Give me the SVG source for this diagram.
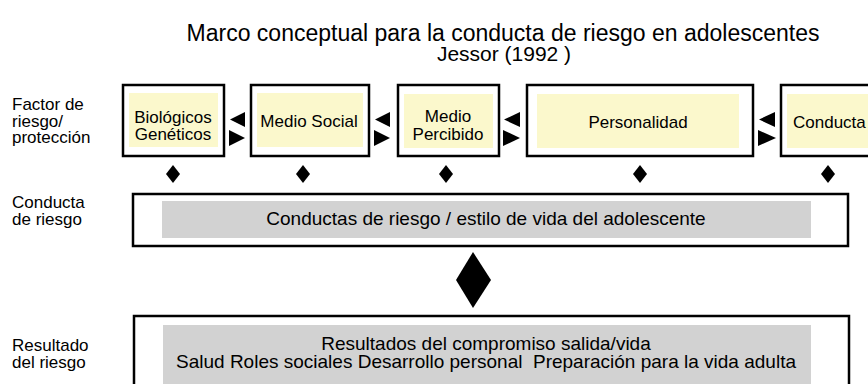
<svg xmlns="http://www.w3.org/2000/svg" width="868" height="384" viewBox="0 0 868 384">
<defs>
<style>
text{font-family:"Liberation Sans",Arial,sans-serif;fill:#000}
.title{font-size:23px;text-anchor:middle}
.sub{font-size:21px;text-anchor:middle}
.lbl{font-size:17px}
.bt{font-size:17px;text-anchor:middle}
.gt{font-size:19px;text-anchor:middle}
.outer{fill:#fff;stroke:#000;stroke-width:2.5}
.yel{fill:#fbf8cc}
.gray{fill:#d2d2d2}
.tri{fill:#000}
</style>
</defs>
<rect width="868" height="384" fill="#fff"/>
<g id="title">
<text class="title" x="503" y="41">Marco conceptual para la conducta de riesgo en adolescentes</text>
<text class="sub" x="504" y="61">Jessor (1992 )</text>
</g>
<g id="row-labels">
<text class="lbl" x="12" y="110">Factor de</text>
<text class="lbl" x="12" y="126.5">riesgo/</text>
<text class="lbl" x="12" y="143">protección</text>
<text class="lbl" x="12" y="208">Conducta</text>
<text class="lbl" x="12" y="225">de riesgo</text>
<text class="lbl" x="12" y="351">Resultado</text>
<text class="lbl" x="12" y="368">del riesgo</text>
</g>
<g id="n-biologicos">
<rect class="outer" x="123" y="85" width="101" height="71"/>
<rect class="yel" x="129" y="93" width="89" height="54"/>
<text class="bt" x="173" y="123">Biológicos</text>
<text class="bt" x="173" y="140">Genéticos</text>
</g>
<g id="n-medio-social">
<rect class="outer" x="251" y="85" width="118" height="71"/>
<rect class="yel" x="257" y="93" width="106" height="54"/>
<text class="bt" x="309" y="127">Medio Social</text>
</g>
<g id="n-medio-percibido">
<rect class="outer" x="398" y="85" width="101" height="71"/>
<rect class="yel" x="404" y="94" width="89" height="54"/>
<text class="bt" x="448" y="122">Medio</text>
<text class="bt" x="448" y="140">Percibido</text>
</g>
<g id="n-personalidad">
<rect class="outer" x="527" y="85" width="226" height="71"/>
<rect class="yel" x="537" y="94" width="202" height="54"/>
<text class="bt" x="638" y="128">Personalidad</text>
</g>
<g id="n-conducta">
<rect class="outer" x="781" y="85" width="100" height="71"/>
<rect class="yel" x="787" y="94" width="90" height="54"/>
<text class="lbl" x="793" y="128">Conducta</text>
</g>
<g id="n-conductas-riesgo">
<rect class="outer" x="133" y="194" width="715" height="52"/>
<rect class="gray" x="162" y="201" width="649" height="37"/>
<text class="gt" x="486" y="225">Conductas de riesgo / estilo de vida del adolescente</text>
</g>
<g id="n-resultados">
<rect class="outer" x="134" y="316" width="715" height="80"/>
<rect class="gray" x="163" y="325" width="648" height="59"/>
<text class="gt" x="486" y="350">Resultados del compromiso salida/vida</text>
<text class="gt" x="486" y="368">Salud Roles sociales Desarrollo personal &#160;Preparación para la vida adulta</text>
</g>
<g id="connectors">
<polygon class="tri" points="230,119.5 245,112 245,127"/>
<polygon class="tri" points="245,138 229,130 229,146"/>
<polygon class="tri" points="375,119.5 390,112 390,127"/>
<polygon class="tri" points="390,138 374,130 374,146"/>
<polygon class="tri" points="504,119.5 520,112 520,127"/>
<polygon class="tri" points="520,138 503,130 503,146"/>
<polygon class="tri" points="759,119.5 775,112 775,127"/>
<polygon class="tri" points="776,138 758,130 758,146"/>
<polygon class="tri" points="173,165 180,174 173,183 166,174"/>
<polygon class="tri" points="303,165 310,174 303,183 296,174"/>
<polygon class="tri" points="446,165 453,174 446,183 439,174"/>
<polygon class="tri" points="640,165 647,174 640,183 633,174"/>
<polygon class="tri" points="828,165 835,174 828,183 821,174"/>
<polygon class="tri" points="473,252 491,280 473,308 456,280"/>
</g>
</svg>
